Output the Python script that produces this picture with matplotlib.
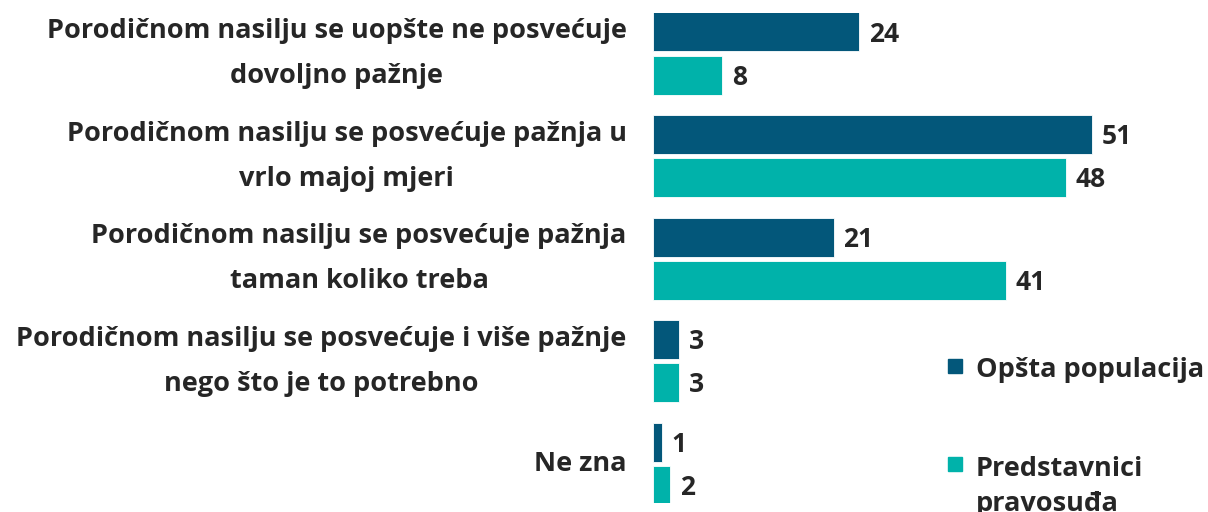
import matplotlib.pyplot as plt
from matplotlib.patches import Rectangle

# data
categories = [
    'Porodičnom nasilju se uopšte ne posvećuje\ndovoljno pažnje',
    'Porodičnom nasilju se posvećuje pažnja u\nvrlo majoj mjeri',
    'Porodičnom nasilju se posvećuje pažnja\ntaman koliko treba',
    'Porodičnom nasilju se posvećuje i više pažnje\nnego što je to potrebno',
    'Ne zna',
]
opsta = [24, 51, 21, 3, 1]
pravosudje = [8, 48, 41, 3, 2]
series_names = ['Opšta populacija', 'Predstavnici\npravosuđa']

dark = '#03577A'
teal = '#00B2AA'
txt = '#262626'

plt.rcParams['font.family'] = ['Open Sans', 'DejaVu Sans']

fig = plt.figure(figsize=(12.08, 5.12), dpi=100)
ax = fig.add_axes([653 / 1208, 9 / 512, 555 / 1208, 490 / 512])

y = list(range(len(categories)))
h = 0.38
off = 0.21
ax.barh([v - off for v in y], opsta, height=h, color=dark, edgecolor='white', linewidth=0.6)
ax.barh([v + off for v in y], pravosudje, height=h, color=teal, edgecolor='white', linewidth=0.6)

# value labels next to the bars
for i in y:
    ax.text(opsta[i] + 1.15, i - off + 0.02, str(opsta[i]), va='center', ha='left',
            fontsize=19, fontweight='bold', color=txt)
    ax.text(pravosudje[i] + 1.15, i + off + 0.02, str(pravosudje[i]), va='center', ha='left',
            fontsize=19, fontweight='bold', color=txt)

ax.set_xlim(0, 555 / 8.6)
ax.set_ylim(4.38, -0.395)
ax.set_yticks(y)
ax.set_yticklabels(categories, fontsize=19.5, fontweight='bold', color=txt,
                   multialignment='center', linespacing=1.95)
for lab in ax.get_yticklabels():
    lab.set_va('center')
ax.tick_params(axis='y', length=0, pad=19)
ax.set_xticks([])
for s in ax.spines.values():
    s.set_visible(False)

# legend drawn by hand
for yy, col, name in [(0.285, dark, series_names[0]), (0.093, teal, series_names[1])]:
    fig.patches.append(Rectangle((948 / 1208, yy - 0.013), 14 / 1208, 14 / 512,
                                 transform=fig.transFigure, color=col))
    fig.text(976 / 1208, yy + 0.017, name, fontsize=19.5, fontweight='bold', color=txt,
             va='top', ha='left', linespacing=1.45)

fig.savefig('out.png', dpi=100)
